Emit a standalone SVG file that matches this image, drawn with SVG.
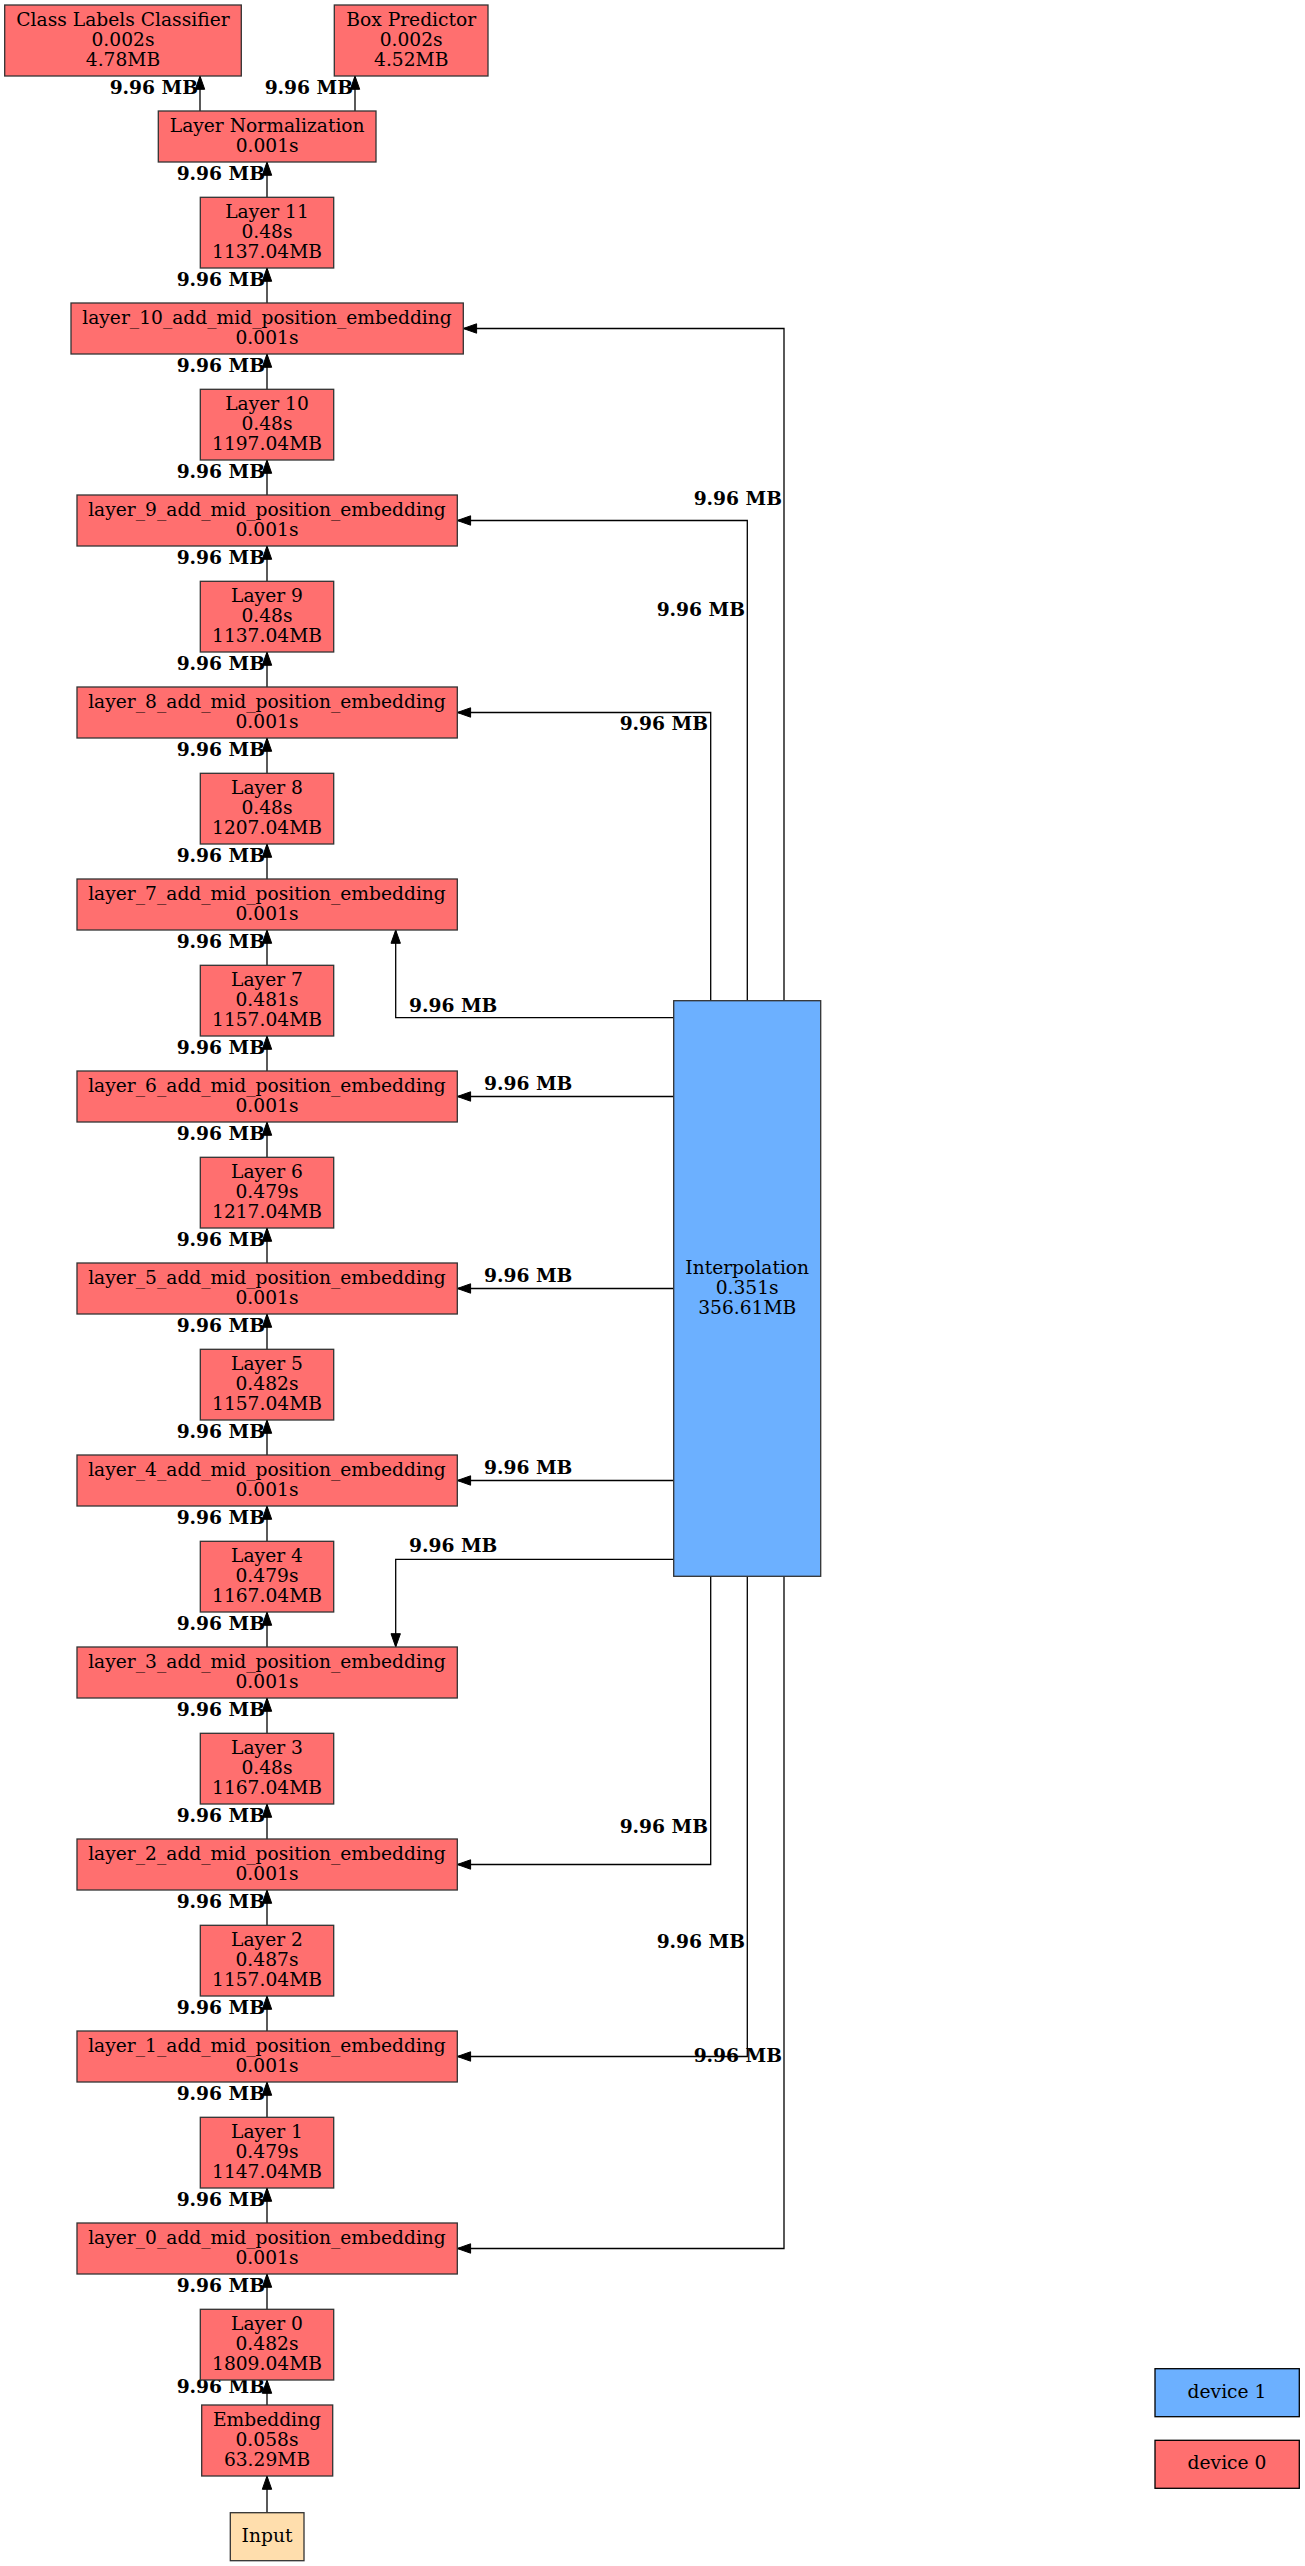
<svg xmlns="http://www.w3.org/2000/svg" width="1305" height="2566" viewBox="0 0 1305 2566">
<style>
rect{stroke:#333;stroke-width:1.3}
.r{fill:#ff6f6f}.b{fill:#6cb0ff}.y{fill:#ffdead}
.lg rect{stroke:#000}
text{font-family:"DejaVu Serif",serif;font-size:18.67px;fill:#000}
.t{text-anchor:middle}
.l{font-weight:bold;text-anchor:end}
.ls{font-weight:bold;text-anchor:start}
#edges path{fill:none;stroke:#000;stroke-width:1.3;marker-end:url(#ah)}
</style>
<defs>
<marker id="ah" markerUnits="userSpaceOnUse" markerWidth="16" markerHeight="12" refX="13.3" refY="4.7" orient="auto" viewBox="-1 -1 16 12">
<path d="M0,0 L13.3,4.7 L0,9.4 Z" fill="#000" stroke="#000" stroke-width="1"/>
</marker>
</defs>

<g id="edges">
<path d="M200,111V76"/>
<path d="M355,111V76"/>
<path d="M267,197.3V162"/>
<path d="M267,303V268"/>
<path d="M267,389.3V354"/>
<path d="M267,495V460"/>
<path d="M267,581.3V546"/>
<path d="M267,687V652"/>
<path d="M267,773.3V738"/>
<path d="M267,879V844"/>
<path d="M267,965.3V930"/>
<path d="M267,1071V1036"/>
<path d="M267,1157.3V1122"/>
<path d="M267,1263V1228"/>
<path d="M267,1349.3V1314"/>
<path d="M267,1455V1420"/>
<path d="M267,1541.3V1506"/>
<path d="M267,1647V1612"/>
<path d="M267,1733.3V1698"/>
<path d="M267,1839V1804"/>
<path d="M267,1925.3V1890"/>
<path d="M267,2031V1996"/>
<path d="M267,2117.3V2082"/>
<path d="M267,2223V2188"/>
<path d="M267,2309.3V2274"/>
<path d="M267,2405V2380"/>
<path d="M267,2512.7V2476"/>
<path d="M784,1000.7V328.5H463.3"/>
<path d="M747.3,1000.7V520.5H457.3"/>
<path d="M710.7,1000.7V712.5H457.3"/>
<path d="M673.7,1017.7H395.7V930"/>
<path d="M673.7,1096.5H457.3"/>
<path d="M673.7,1288.5H457.3"/>
<path d="M673.7,1480.5H457.3"/>
<path d="M673.7,1559.3H395.7V1647"/>
<path d="M710.7,1576.3V1864.5H457.3"/>
<path d="M747.3,1576.3V2056.5H457.3"/>
<path d="M784,1576.3V2248.5H457.3"/>
<g id="edge-labels">
<text class="l" x="198" y="94">9.96 MB</text>
<text class="l" x="353" y="94">9.96 MB</text>
<text class="l" x="265" y="180">9.96 MB</text>
<text class="l" x="265" y="286">9.96 MB</text>
<text class="l" x="265" y="372">9.96 MB</text>
<text class="l" x="265" y="478">9.96 MB</text>
<text class="l" x="265" y="564">9.96 MB</text>
<text class="l" x="265" y="670">9.96 MB</text>
<text class="l" x="265" y="756">9.96 MB</text>
<text class="l" x="265" y="862">9.96 MB</text>
<text class="l" x="265" y="948">9.96 MB</text>
<text class="l" x="265" y="1054">9.96 MB</text>
<text class="l" x="265" y="1140">9.96 MB</text>
<text class="l" x="265" y="1246">9.96 MB</text>
<text class="l" x="265" y="1332">9.96 MB</text>
<text class="l" x="265" y="1438">9.96 MB</text>
<text class="l" x="265" y="1524">9.96 MB</text>
<text class="l" x="265" y="1630">9.96 MB</text>
<text class="l" x="265" y="1716">9.96 MB</text>
<text class="l" x="265" y="1822">9.96 MB</text>
<text class="l" x="265" y="1908">9.96 MB</text>
<text class="l" x="265" y="2014">9.96 MB</text>
<text class="l" x="265" y="2100">9.96 MB</text>
<text class="l" x="265" y="2206">9.96 MB</text>
<text class="l" x="265" y="2292">9.96 MB</text>
<text class="l" x="265" y="2392.7">9.96 MB</text>
<text class="l" x="782" y="505">9.96 MB</text>
<text class="l" x="745" y="615.7">9.96 MB</text>
<text class="l" x="708" y="730">9.96 MB</text>
<text class="ls" x="409" y="1011.7">9.96 MB</text>
<text class="ls" x="484" y="1089.5">9.96 MB</text>
<text class="ls" x="484" y="1281.5">9.96 MB</text>
<text class="ls" x="484" y="1473.5">9.96 MB</text>
<text class="ls" x="409" y="1551.7">9.96 MB</text>
<text class="l" x="708" y="1833.3">9.96 MB</text>
<text class="l" x="745" y="1948.3">9.96 MB</text>
<text class="l" x="782" y="2062.3">9.96 MB</text>
</g>
</g>

<g id="class_labels_classifier"><rect class="r" x="4.7" y="5" width="236.6" height="71"/><text class="t" x="123" y="25.5">Class Labels Classifier</text><text class="t" x="123" y="45.5">0.002s</text><text class="t" x="123" y="65.5">4.78MB</text></g>
<g id="box_predictor"><rect class="r" x="334.3" y="5" width="153.7" height="71"/><text class="t" x="411.2" y="25.5">Box Predictor</text><text class="t" x="411.2" y="45.5">0.002s</text><text class="t" x="411.2" y="65.5">4.52MB</text></g>
<g id="layer_normalization"><rect class="r" x="158.3" y="111" width="217.7" height="51"/><text class="t" x="267.2" y="131.5">Layer Normalization</text><text class="t" x="267.2" y="151.5">0.001s</text></g>

<g id="layer_11"><rect class="r" x="200.3" y="197.3" width="133.4" height="70.7"/><text class="t" x="267" y="217.7">Layer 11</text><text class="t" x="267" y="237.7">0.48s</text><text class="t" x="267" y="257.7">1137.04MB</text></g>
<g id="layer_10_add"><rect class="r" x="71" y="303" width="392.3" height="51"/><text class="t" x="267" y="323.5">layer_10_add_mid_position_embedding</text><text class="t" x="267" y="343.5">0.001s</text></g>
<g id="layer_10"><rect class="r" x="200.3" y="389.3" width="133.4" height="70.7"/><text class="t" x="267" y="409.7">Layer 10</text><text class="t" x="267" y="429.7">0.48s</text><text class="t" x="267" y="449.7">1197.04MB</text></g>
<g id="layer_9_add"><rect class="r" x="77" y="495" width="380.3" height="51"/><text class="t" x="267" y="515.5">layer_9_add_mid_position_embedding</text><text class="t" x="267" y="535.5">0.001s</text></g>
<g id="layer_9"><rect class="r" x="200.3" y="581.3" width="133.4" height="70.7"/><text class="t" x="267" y="601.7">Layer 9</text><text class="t" x="267" y="621.7">0.48s</text><text class="t" x="267" y="641.7">1137.04MB</text></g>
<g id="layer_8_add"><rect class="r" x="77" y="687" width="380.3" height="51"/><text class="t" x="267" y="707.5">layer_8_add_mid_position_embedding</text><text class="t" x="267" y="727.5">0.001s</text></g>
<g id="layer_8"><rect class="r" x="200.3" y="773.3" width="133.4" height="70.7"/><text class="t" x="267" y="793.7">Layer 8</text><text class="t" x="267" y="813.7">0.48s</text><text class="t" x="267" y="833.7">1207.04MB</text></g>
<g id="layer_7_add"><rect class="r" x="77" y="879" width="380.3" height="51"/><text class="t" x="267" y="899.5">layer_7_add_mid_position_embedding</text><text class="t" x="267" y="919.5">0.001s</text></g>
<g id="layer_7"><rect class="r" x="200.3" y="965.3" width="133.4" height="70.7"/><text class="t" x="267" y="985.7">Layer 7</text><text class="t" x="267" y="1005.7">0.481s</text><text class="t" x="267" y="1025.7">1157.04MB</text></g>
<g id="layer_6_add"><rect class="r" x="77" y="1071" width="380.3" height="51"/><text class="t" x="267" y="1091.5">layer_6_add_mid_position_embedding</text><text class="t" x="267" y="1111.5">0.001s</text></g>
<g id="layer_6"><rect class="r" x="200.3" y="1157.3" width="133.4" height="70.7"/><text class="t" x="267" y="1177.7">Layer 6</text><text class="t" x="267" y="1197.7">0.479s</text><text class="t" x="267" y="1217.7">1217.04MB</text></g>
<g id="layer_5_add"><rect class="r" x="77" y="1263" width="380.3" height="51"/><text class="t" x="267" y="1283.5">layer_5_add_mid_position_embedding</text><text class="t" x="267" y="1303.5">0.001s</text></g>
<g id="layer_5"><rect class="r" x="200.3" y="1349.3" width="133.4" height="70.7"/><text class="t" x="267" y="1369.7">Layer 5</text><text class="t" x="267" y="1389.7">0.482s</text><text class="t" x="267" y="1409.7">1157.04MB</text></g>
<g id="layer_4_add"><rect class="r" x="77" y="1455" width="380.3" height="51"/><text class="t" x="267" y="1475.5">layer_4_add_mid_position_embedding</text><text class="t" x="267" y="1495.5">0.001s</text></g>
<g id="layer_4"><rect class="r" x="200.3" y="1541.3" width="133.4" height="70.7"/><text class="t" x="267" y="1561.7">Layer 4</text><text class="t" x="267" y="1581.7">0.479s</text><text class="t" x="267" y="1601.7">1167.04MB</text></g>
<g id="layer_3_add"><rect class="r" x="77" y="1647" width="380.3" height="51"/><text class="t" x="267" y="1667.5">layer_3_add_mid_position_embedding</text><text class="t" x="267" y="1687.5">0.001s</text></g>
<g id="layer_3"><rect class="r" x="200.3" y="1733.3" width="133.4" height="70.7"/><text class="t" x="267" y="1753.7">Layer 3</text><text class="t" x="267" y="1773.7">0.48s</text><text class="t" x="267" y="1793.7">1167.04MB</text></g>
<g id="layer_2_add"><rect class="r" x="77" y="1839" width="380.3" height="51"/><text class="t" x="267" y="1859.5">layer_2_add_mid_position_embedding</text><text class="t" x="267" y="1879.5">0.001s</text></g>
<g id="layer_2"><rect class="r" x="200.3" y="1925.3" width="133.4" height="70.7"/><text class="t" x="267" y="1945.7">Layer 2</text><text class="t" x="267" y="1965.7">0.487s</text><text class="t" x="267" y="1985.7">1157.04MB</text></g>
<g id="layer_1_add"><rect class="r" x="77" y="2031" width="380.3" height="51"/><text class="t" x="267" y="2051.5">layer_1_add_mid_position_embedding</text><text class="t" x="267" y="2071.5">0.001s</text></g>
<g id="layer_1"><rect class="r" x="200.3" y="2117.3" width="133.4" height="70.7"/><text class="t" x="267" y="2137.7">Layer 1</text><text class="t" x="267" y="2157.7">0.479s</text><text class="t" x="267" y="2177.7">1147.04MB</text></g>
<g id="layer_0_add"><rect class="r" x="77" y="2223" width="380.3" height="51"/><text class="t" x="267" y="2243.5">layer_0_add_mid_position_embedding</text><text class="t" x="267" y="2263.5">0.001s</text></g>
<g id="layer_0"><rect class="r" x="200.3" y="2309.3" width="133.4" height="70.7"/><text class="t" x="267" y="2329.7">Layer 0</text><text class="t" x="267" y="2349.7">0.482s</text><text class="t" x="267" y="2369.7">1809.04MB</text></g>
<g id="embedding"><rect class="r" x="201.7" y="2405" width="131" height="71"/><text class="t" x="267" y="2425.5">Embedding</text><text class="t" x="267" y="2445.5">0.058s</text><text class="t" x="267" y="2465.5">63.29MB</text></g>
<g id="input"><rect class="y" x="230.3" y="2512.7" width="73.7" height="48"/><text class="t" x="267" y="2541.7">Input</text></g>

<g id="interpolation"><rect class="b" x="673.7" y="1000.7" width="147" height="575.6"/><text class="t" x="747.2" y="1273.5">Interpolation</text><text class="t" x="747.2" y="1293.5">0.351s</text><text class="t" x="747.2" y="1313.5">356.61MB</text></g>

<g id="legend" class="lg">
<g id="legend_device_1"><rect class="b" x="1155" y="2368.7" width="144.3" height="48"/><text class="t" x="1227" y="2397.7">device 1</text></g>
<g id="legend_device_0"><rect class="r" x="1155" y="2440.3" width="144.3" height="48"/><text class="t" x="1227" y="2469.3">device 0</text></g>
</g>
</svg>
